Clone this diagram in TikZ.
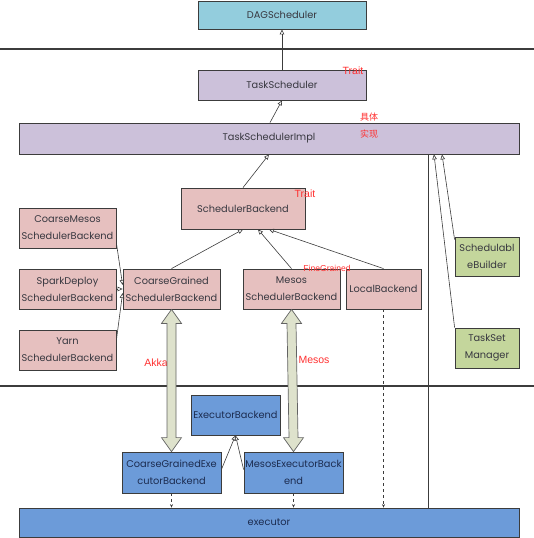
\documentclass[tikz,border=0pt]{standalone}
\usepackage{fontspec}
\setmainfont{Poppins}
\newfontfamily\labelfont{Liberation Sans}
\newfontfamily\cjkfont{Noto Sans CJK SC}
\usetikzlibrary{arrows.meta,calc}
\definecolor{dagfill}{HTML}{93CDDD}
\definecolor{tsfill}{HTML}{CCC1DA}
\definecolor{pinkfill}{HTML}{E6C0BF}
\definecolor{greenfill}{HTML}{C4D69C}
\definecolor{bluefill}{HTML}{6C9BD9}
\definecolor{arrowfill}{HTML}{DEE2CC}
\definecolor{edge}{HTML}{3C3C3C}
\definecolor{txt}{HTML}{383840}
\definecolor{bluetxt}{HTML}{1C2C50}
\definecolor{lbl}{HTML}{FF3030}
\begin{document}
\begin{tikzpicture}[x=1pt,y=-1pt,
  box/.style={draw=edge, line width=0.8pt, inner sep=0pt, align=center, text=txt,
    font=\fontsize{9.8}{17}\selectfont},
  dagbox/.style={box, fill=dagfill},
  tsbox/.style={box, fill=tsfill},
  pinkbox/.style={box, fill=pinkfill},
  greenbox/.style={box, fill=greenfill},
  bluebox/.style={box, fill=bluefill, text=bluetxt},
  inherit/.style={draw=edge, line width=0.6pt, -{Triangle[open, length=5pt, width=4.5pt]}},
  depend/.style={draw=edge, line width=0.6pt, dashed, -{Stealth[length=3.5pt, width=3pt]}},
  plain/.style={draw=edge, line width=0.8pt},
  layer/.style={draw=edge, line width=1.3pt},
  blockarrow/.style={draw=edge!80, line width=0.7pt, fill=arrowfill},
  redlabel/.style={text=lbl, inner sep=0pt, font=\labelfont\fontsize{10.5}{12}\selectfont},
  cjklabel/.style={text=lbl, inner sep=0pt, font=\cjkfont\fontsize{9}{10}\selectfont}
]
\useasboundingbox (0,0) rectangle (534,538);

% layer separators
\coordinate (l1a) at (0,49);
\coordinate (l1b) at (534,49);
\coordinate (l2a) at (0,386);
\coordinate (l2b) at (534,386);
\draw[layer] (l1a) -- (l1b);
\draw[layer] (l2a) -- (l2b);

% boxes
\node[dagbox, minimum width=168pt, minimum height=28pt] (dag) at (282,15) {DAGScheduler};
\node[tsbox, minimum width=168pt, minimum height=30pt] (ts) at (282,85) {TaskScheduler};
\node[tsbox, minimum width=500pt, minimum height=31pt] (tsimpl) at (269,138.5) {TaskSchedulerImpl};
\node[pinkbox, minimum width=124pt, minimum height=41pt] (sb) at (243,208.5) {SchedulerBackend};
\node[pinkbox, minimum width=97pt, minimum height=40pt] (cm) at (67.5,228) {CoarseMesos\\SchedulerBackend};
\node[pinkbox, minimum width=97pt, minimum height=40pt] (sd) at (67.5,289) {SparkDeploy\\SchedulerBackend};
\node[pinkbox, minimum width=97pt, minimum height=40pt] (yarn) at (67.5,350) {Yarn\\SchedulerBackend};
\node[pinkbox, minimum width=97pt, minimum height=40pt] (cgsb) at (171.5,289) {CoarseGrained\\SchedulerBackend};
\node[pinkbox, minimum width=97pt, minimum height=40pt] (msb) at (291.5,289) {Mesos\\SchedulerBackend};
\node[pinkbox, minimum width=75pt, minimum height=40pt] (local) at (383.5,289) {LocalBackend};
\node[greenbox, minimum width=64pt, minimum height=39pt] (sbld) at (487,256.5) {Schedulabl\\eBuilder};
\node[greenbox, minimum width=64pt, minimum height=40pt] (tsm) at (487,348) {TaskSet\\Manager};
\node[bluebox, minimum width=89pt, minimum height=40pt] (eb) at (235.5,415) {ExecutorBackend};
\node[bluebox, minimum width=99pt, minimum height=41pt] (cgexe) at (171.5,472.5) {CoarseGrainedExe\\cutorBackend};
\node[bluebox, minimum width=99pt, minimum height=41pt] (mexe) at (293.5,472.5) {MesosExecutorBack\\end};
\node[bluebox, minimum width=500pt, minimum height=29pt] (exec) at (269,522.5) {executor};

% red labels
\node[redlabel] (trait1) at (353,71) {Trait};
\node[cjklabel] (impl1) at (369,117) {具体};
\node[cjklabel] (impl2) at (369,134) {实现};
\node[redlabel] (trait2) at (305,194) {Trait};
\node[redlabel, font=\labelfont\fontsize{8.6}{9}\selectfont] (fine) at (327,268) {FineGrained};
\node[redlabel] (akka) at (156,363) {Akka};
\node[redlabel] (mesos) at (314,360) {Mesos};

% inheritance arrows
\draw[inherit] (ts.north) -- (dag.south);
\draw[inherit] ([xshift=-12pt]ts.south |- tsimpl.north) -- (ts.south);
\draw[inherit] (sb.north) -- (tsimpl.south);
\draw[inherit] (cgsb.north) -- (sb.south);
\draw[inherit] (msb.north) -- ([xshift=15pt]sb.south);
\draw[inherit] (local.north) -- ([xshift=26pt]sb.south);
\draw[inherit] ([yshift=-15pt]cm.east) -- ([yshift=4pt]cgsb.west);
\draw[inherit] (sd.east) -- (cgsb.west);
\draw[inherit] ([yshift=10pt]yarn.east) -- ([yshift=-4pt]cgsb.west);
\draw[inherit] ([yshift=3pt]cgexe.east) -- (eb.south);
\draw[inherit] ([yshift=3pt]mexe.west) -- (eb.south);
\draw[inherit] (tsm.north west) -- ([xshift=165pt]tsimpl.south);
\draw[inherit] ([yshift=-3pt]sbld.north west) -- ([xshift=173pt]tsimpl.south);

% plain association line
\coordinate (vt) at ([xshift=159pt]tsimpl.south);
\draw[plain] (vt) -- (vt |- exec.north);

% dependencies
\draw[depend] (cgexe.south) -- (cgexe.south |- exec.north);
\draw[depend] (mexe.south) -- (mexe.south |- exec.north);
\draw[depend] (local.south) -- (local.south |- exec.north);

% block (double) arrows
\foreach \a/\b in {cgsb/cgexe, msb/mexe}{
  \path[blockarrow]
    (\a.south)
    -- ($(\a.south)+(10,14)$) -- ($(\a.south)+(4.5,14)$)
    -- ($(\b.north)+(4.5,-14)$) -- ($(\b.north)+(10,-14)$)
    -- (\b.north)
    -- ($(\b.north)+(-10,-14)$) -- ($(\b.north)+(-4.5,-14)$)
    -- ($(\a.south)+(-4.5,14)$) -- ($(\a.south)+(-10,14)$)
    -- cycle;
}
\end{tikzpicture}
\end{document}
